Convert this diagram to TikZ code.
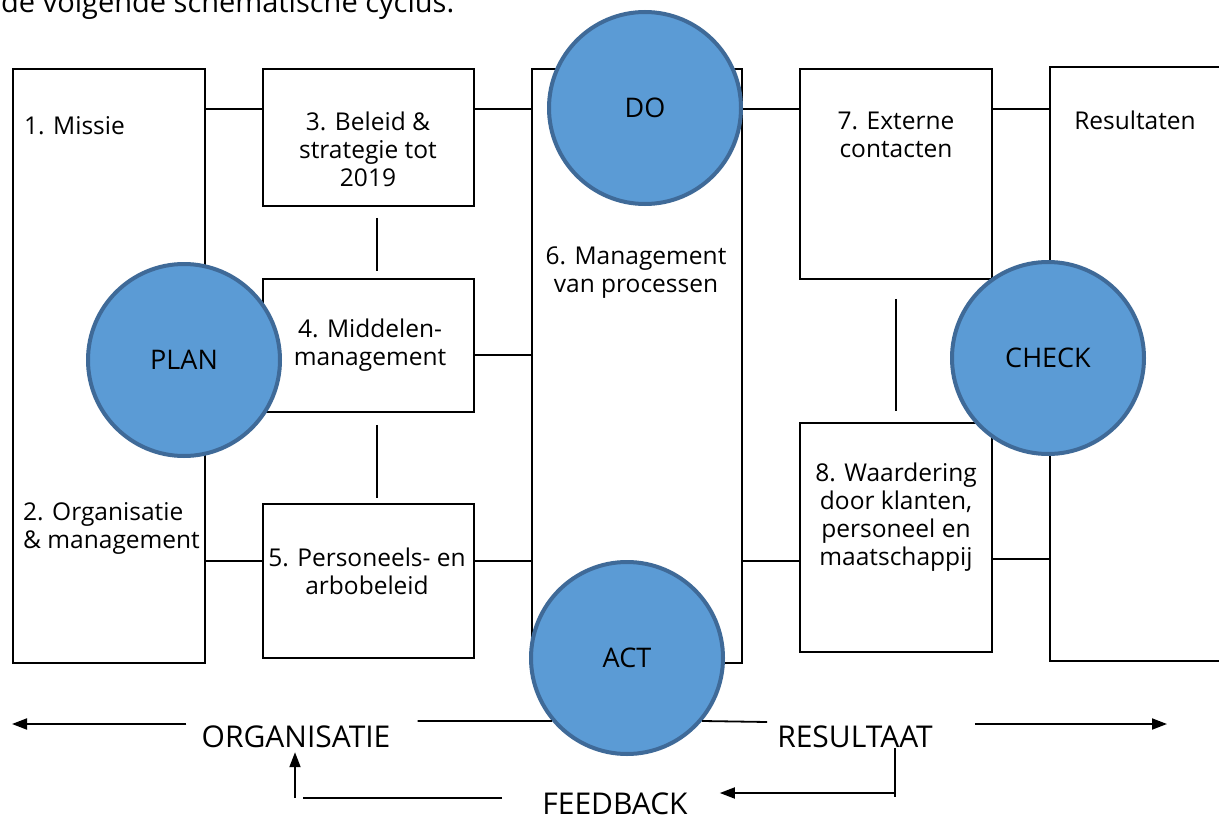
\documentclass[tikz,border=0pt]{standalone}
\usepackage{fontspec}
\setmainfont{Open Sans}
\usetikzlibrary{arrows.meta,calc}
\definecolor{phasefill}{HTML}{5B9BD5}
\definecolor{phaseedge}{HTML}{3F6A98}
\begin{document}
\begin{tikzpicture}[x=1pt,y=-1pt,
  box/.style={draw=black, line width=1.8pt, fill=white, anchor=north west, inner sep=0pt},
  txt/.style={font=\fontsize{24.5}{28}\selectfont, align=center, inner sep=0pt},
  link/.style={draw=black, line width=1.8pt},
  arr/.style={link, -{Triangle[length=15pt,width=11pt]}},
  phase/.style={circle, draw=phaseedge, fill=phasefill, line width=4pt,
    minimum size=192pt, inner sep=0pt, font=\fontsize{27}{30}\selectfont},
  flow/.style={font=\fontsize{30}{32}\selectfont, inner sep=0pt}]
\useasboundingbox (0,0) rectangle (1219,816);
\clip (0,0) rectangle (1219,816);

% heading line above the cycle
\node[anchor=base west, inner sep=0pt, font=\fontsize{29}{32}\selectfont] (intro) at (1,13) {de volgende schematische cyclus.};

% boxes
\node[box, minimum width=192pt, minimum height=594pt] (b1) at (12,68) {};
\node[box, minimum width=211pt, minimum height=137pt] (b3) at (262,68) {};
\node[box, minimum width=211pt, minimum height=133pt] (b4) at (262,278) {};
\node[box, minimum width=211pt, minimum height=154pt] (b5) at (262,503) {};
\node[box, minimum width=210pt, minimum height=594pt] (b6) at (531,68) {};
\node[box, minimum width=192pt, minimum height=210pt] (b7) at (799,68) {};
\node[box, minimum width=192pt, minimum height=229pt] (b8) at (799,422) {};
\node[box, minimum width=250pt, minimum height=594pt] (bR) at (1049,66) {};

% box texts
\node[txt, anchor=west] (t1) at (24,126) {1. Missie};
\node[txt, anchor=west, align=left] (t2) at (23,528) {2. Organisatie\\\& management};
\node[txt] (t3) at (368,149) {3. Beleid \&\\strategie tot\\2019};
\node[txt] (t4) at (370,345) {4. Middelen-\\management};
\node[txt] (t5) at (367,571) {5. Personeels- en\\arbobeleid};
\node[txt] (t6) at (636,273) {6. Management\\van processen};
\node[txt] (t7) at (896,135) {7. Externe\\contacten};
\node[txt] (t8) at (896,517) {8. Waardering\\door klanten,\\personeel en\\maatschappij};
\node[txt] (tR) at (1135,120) {Resultaten};

% rows of the horizontal links
\coordinate (toprow) at (0,109);
\coordinate (midrow) at (0,355);
\coordinate (lowrow) at (0,561);
\coordinate (lowrowR) at (0,559);

\draw[link] (b1.east |- toprow) -- (b3.west |- toprow);
\draw[link] (b3.east |- toprow) -- (b6.west |- toprow);
\draw[link] (b6.east |- toprow) -- (b7.west |- toprow);
\draw[link] (b7.east |- toprow) -- (bR.west |- toprow);
\draw[link] (b4.east |- midrow) -- (b6.west |- midrow);
\draw[link] (b1.east |- lowrow) -- (b5.west |- lowrow);
\draw[link] (b5.east |- lowrow) -- (b6.west |- lowrow);
\draw[link] (b6.east |- lowrow) -- (b8.west |- lowrow);
\draw[link] (b8.east |- lowrowR) -- (bR.west |- lowrowR);

% vertical links
\draw[link] ([xshift=8.5pt,yshift=-11pt]b3.south) -- ([xshift=8.5pt,yshift=7pt]b4.north);
\draw[link] ([xshift=8.5pt,yshift=-12pt]b4.south) -- ([xshift=8.5pt,yshift=5pt]b5.north);
\draw[link] ([yshift=-19pt]b7.south) -- ([yshift=11pt]b8.north);

% PDCA circles
\node[phase] (plan) at (184,360) {PLAN};
\node[phase] (do) at (645,108) {DO};
\node[phase] (act) at (627,658) {ACT};
\node[phase] (check) at (1048,358) {CHECK};

% flow labels and arrows at the bottom
\node[flow] (org) at (296,737) {ORGANISATIE};
\node[flow] (res) at (855,737) {RESULTAAT};
\node[flow] (fb) at (615,804) {FEEDBACK};

\coordinate (westend) at (12,724);
\coordinate (eastend) at (1167,724);
\coordinate (fbturn) at (895,793);
\coordinate (fbcorner) at (295,798);

\draw[arr] ($(org.west |- westend)+(-15,0)$) -- (westend);
\draw[link] ($(org.east |- 0,721)+(27,0)$) -- (act.220);
\draw[link] (act.320) -- ($(res.west |- 0,722)+(-10,0)$);
\draw[arr] ($(res.east |- eastend)+(42,0)$) -- (eastend);

\draw[link] (res.south -| fbturn) -- ($(fbturn)+(0,4)$);
\draw[arr] (fbturn) -- ($(fb.east |- fbturn)+(32,0)$);
\draw[link] ($(fb.west |- fbcorner)+(-40,0)$) -- ($(fbcorner)+(8,0)$);
\draw[arr] (fbcorner) -- ($(org.south -| fbcorner)+(0,4)$);
\end{tikzpicture}
\end{document}
